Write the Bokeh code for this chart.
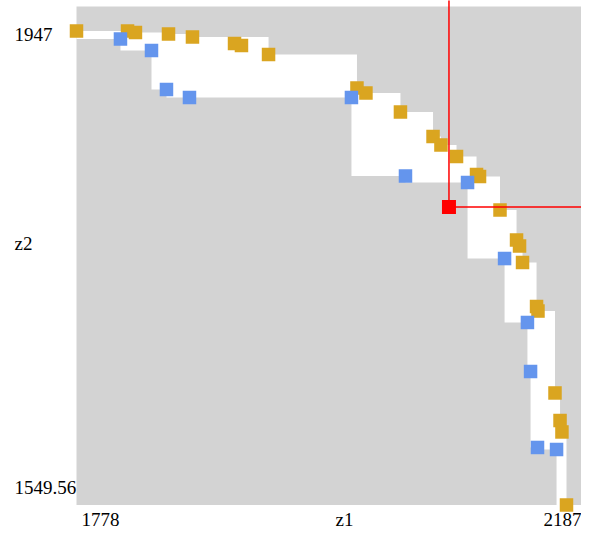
from bokeh.plotting import figure
from bokeh.embed import file_html
from bokeh.resources import INLINE
from bokeh.core.properties import value

# ---- data ----
orange_z1 = [1778.0, 1820.6, 1827.2, 1854.8, 1874.8, 1909.9, 1915.7, 1938.3, 2012.1, 2019.6,
             2048.4, 2075.6, 2082.2, 2095.2, 2111.9, 2114.4, 2131.5, 2145.3, 2147.8, 2150.3,
             2162.0, 2163.2, 2177.4, 2181.6, 2183.2, 2187.0]
orange_z2 = [1947.0, 1947.0, 1945.7, 1944.5, 1942.0, 1936.5, 1934.8, 1927.3, 1899.2, 1895.0,
             1879.1, 1858.5, 1851.4, 1841.8, 1826.7, 1825.0, 1796.9, 1771.8, 1766.7, 1752.9,
             1716.0, 1712.2, 1643.5, 1620.4, 1610.8, 1549.56]

blue_z1 = [1814.7, 1840.6, 1853.1, 1872.3, 2007.5, 2052.6, 2104.4, 2135.3, 2154.4, 2157.0, 2162.8, 2178.7]
blue_z2 = [1940.3, 1930.6, 1897.9, 1891.2, 1891.2, 1825.4, 1820.0, 1756.2, 1702.6, 1661.5, 1597.8, 1596.1]

# upper staircase of the white band (orange front without two inner points)
band_upper_z1 = [v for i, v in enumerate(orange_z1) if i not in (5, 6)]
band_upper_z2 = [v for i, v in enumerate(orange_z2) if i not in (5, 6)]

ref_z1 = [2088.9]
ref_z2 = [1799.4]

x_tick_values = [1778, 2187]
x_tick_labels = ["1778", "2187"]
y_tick_values = [1947, 1549.56]
y_tick_labels = ["1947", "1549.56"]
x_name = "z1"
y_name = "z2"

# ---- pixel <-> data mapping (picture pixels) ----
SX = (566 - 76) / (2187 - 1778)
SY = (504.5 - 30.5) / (1947 - 1549.56)

def X(px):
    return 1778 + (px - 76) / SX

def Y(py):
    return 1947 - (py - 30.5) / SY

W, H = 581, 532
p = figure(width=W, height=H, x_range=(X(0), X(W)), y_range=(Y(H), Y(0)),
           output_backend="svg", toolbar_location=None, title=None,
           x_axis_location=None, y_axis_location=None, min_border=0)
p.grid.visible = False
p.outline_line_color = None
p.background_fill_color = "white"
p.border_fill_color = "white"

zmin1, zmax1 = min(x_tick_values), max(x_tick_values)
zmin2, zmax2 = min(y_tick_values), max(y_tick_values)

# gray area
p.quad(left=[zmin1], right=[X(640)], bottom=[zmin2], top=[Y(6)],
       fill_color="#d3d3d3", line_color=None)

# white band polygon between the two staircases
ux, uy = band_upper_z1, band_upper_z2
xs = [ux[0]]
ys = [uy[0]]
for i in range(1, len(ux)):
    xs += [ux[i], ux[i]]
    ys += [uy[i - 1], uy[i]]
lx, ly = blue_z1, blue_z2
xs.append(lx[-1]); ys.append(uy[-1])
for j in range(len(lx) - 1, 0, -1):
    xs += [lx[j], lx[j - 1]]
    ys += [ly[j], ly[j]]
xs += [lx[0], ux[0]]
ys += [ly[0], ly[0]]
p.patch(xs, ys, fill_color="white", line_color=None)

p.scatter(orange_z1, orange_z2, marker="square", size=13.5, fill_color="#daa520", line_color=None)
p.scatter(blue_z1, blue_z2, marker="square", size=13.5, fill_color="#6495ed", line_color=None)

# reference point with lines
p.segment(x0=ref_z1, y0=ref_z2, x1=ref_z1, y1=[Y(-20)], line_color="red", line_width=1.5)
p.segment(x0=ref_z1, y0=ref_z2, x1=[X(640)], y1=ref_z2, line_color="red", line_width=1.5)
p.scatter(ref_z1, ref_z2, marker="square", size=14, fill_color="red", line_color=None)

font = value("Liberation Serif")
fs = "19px"
# x tick labels and name
p.text(x=[X(81), X(543)], y=[Y(519), Y(519)], text=x_tick_labels, text_font=font,
       text_font_size=fs, text_align="left", text_baseline="alphabetic", text_color="black")
p.text(x=[X(335)], y=[Y(519)], text=[x_name], text_font=font,
       text_font_size=fs, text_align="left", text_baseline="alphabetic", text_color="black")
# y tick labels and name
p.text(x=[X(14), X(14)], y=[Y(34), Y(487)], text=y_tick_labels, text_font=font,
       text_font_size=fs, text_align="left", text_baseline="alphabetic", text_color="black")
p.text(x=[X(14)], y=[Y(243)], text=[y_name], text_font=font,
       text_font_size=fs, text_align="left", text_baseline="alphabetic", text_color="black")

open("out.html", "w").write(file_html(p, INLINE))
